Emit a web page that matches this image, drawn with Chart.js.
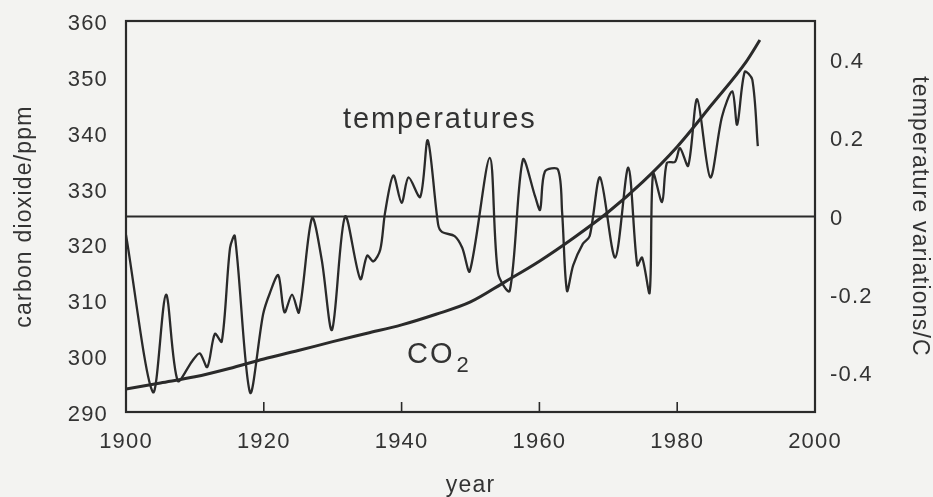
<!DOCTYPE html>
<html>
<head>
<meta charset="utf-8">
<script src="https://cdn.jsdelivr.net/npm/chart.js@4/dist/chart.umd.min.js"></script>
<style>
  html, body { margin: 0; padding: 0; background: #f3f3f1; }
  canvas { display: block; }
</style>
</head>
<body>
<canvas id="c" width="933" height="497"></canvas>
<script>
// ---- data ----
const co2Years  = [1900, 1905, 1910, 1915, 1920, 1925, 1930, 1935, 1940, 1945, 1950, 1955, 1960, 1965, 1970, 1975, 1980, 1985, 1990, 1992];
const co2Values = [294.1, 295.2, 296.3, 297.8, 299.5, 301.0, 302.6, 304.1, 305.6, 307.5, 309.7, 313.3, 317.0, 321.2, 325.8, 331.2, 337.5, 345.0, 352.7, 356.6];

const tempYears  = [1900.0, 1903.9, 1905.8, 1907.5, 1909.6, 1910.7, 1911.8, 1912.9, 1913.9, 1915.1, 1915.8, 1918.0, 1919.9, 1920.9, 1922.1, 1923.0, 1924.1, 1925.1, 1927.0, 1928.4, 1929.9, 1931.8, 1934.0, 1935.0, 1935.9, 1936.9, 1937.6, 1938.8, 1940.0, 1941.0, 1942.7, 1943.8, 1945.3, 1945.9, 1947.7, 1948.8, 1949.9, 1952.8, 1954.0, 1955.7, 1957.6, 1959.4, 1960.1, 1960.8, 1962.7, 1963.3, 1964.0, 1964.9, 1966.3, 1967.3, 1968.8, 1971.0, 1972.9, 1974.2, 1974.9, 1976.0, 1976.5, 1977.8, 1978.5, 1979.7, 1980.4, 1981.6, 1982.9, 1984.8, 1986.5, 1988.0, 1988.7, 1989.8, 1990.9, 1991.7];
const tempValues = [-0.047, -0.449, -0.20, -0.42, -0.37, -0.35, -0.385, -0.30, -0.32, -0.08, -0.05, -0.45, -0.25, -0.195, -0.15, -0.245, -0.20, -0.245, -0.004, -0.11, -0.29, 0.0, -0.16, -0.10, -0.115, -0.085, 0.01, 0.105, 0.035, 0.10, 0.05, 0.195, -0.02, -0.04, -0.05, -0.08, -0.14, 0.15, -0.145, -0.19, 0.145, 0.05, 0.017, 0.115, 0.12, 0.01, -0.19, -0.125, -0.07, -0.05, 0.10, -0.105, 0.125, -0.125, -0.105, -0.195, 0.11, 0.037, 0.137, 0.14, 0.175, 0.13, 0.30, 0.10, 0.255, 0.32, 0.235, 0.37, 0.35, 0.18];

const xTicks    = [1900, 1920, 1940, 1960, 1980, 2000];
const co2Ticks  = [290, 300, 310, 320, 330, 340, 350, 360];
const tempTicks = [-0.4, -0.2, 0, 0.2, 0.4];

// ---- style ----
const INK = '#2a2a2a';
const FONT = "'Liberation Sans', Arial, Helvetica, sans-serif";
Chart.defaults.font.family = FONT;
Chart.defaults.color = '#333';

const bgPlugin = {
  id: 'bg',
  beforeDraw(chart) {
    const c = chart.ctx;
    c.fillStyle = '#f3f3f1';
    c.fillRect(0, 0, chart.width, chart.height);
    c.letterSpacing = '1.2px';
  }
};

const framePlugin = {
  id: 'frame',
  afterDatasetsDraw(chart) {
    const c = chart.ctx;
    const a = chart.chartArea;
    const sx = chart.scales.x, sy = chart.scales.y, st = chart.scales.y2;
    c.save();
    c.strokeStyle = INK;
    // zero line of temperature
    c.lineWidth = 1.8;
    const y0 = st.getPixelForValue(0);
    c.beginPath(); c.moveTo(a.left, y0); c.lineTo(a.right, y0); c.stroke();
    // frame
    c.lineWidth = 2.2;
    c.strokeRect(a.left, a.top, a.right - a.left, a.bottom - a.top);
    // inward tick marks on x axis
    c.lineWidth = 1.6;
    xTicks.forEach(v => {
      if (v === sx.min || v === sx.max) return;
      const px = sx.getPixelForValue(v);
      c.beginPath(); c.moveTo(px, a.bottom); c.lineTo(px, a.bottom - 10); c.stroke();
    });
    // annotations
    c.fillStyle = '#333';
    c.textBaseline = 'alphabetic';
    c.textAlign = 'left';
    c.letterSpacing = '1.9px';
    c.font = '29px ' + FONT;
    c.fillText('temperatures', sx.getPixelForValue(1931.5), sy.getPixelForValue(340.8));
    const cx = sx.getPixelForValue(1940.8), cy = sy.getPixelForValue(298.8);
    c.fillText('CO', cx, cy);
    const w = c.measureText('CO').width;
    c.font = '22px ' + FONT;
    c.fillText('2', cx + w + 2, cy + 9);
    c.restore();
  }
};

new Chart(document.getElementById('c'), {
  type: 'line',
  data: {
    datasets: [
      {
        label: 'CO2',
        data: co2Years.map((x, i) => ({ x, y: co2Values[i] })),
        yAxisID: 'y',
        borderColor: INK,
        borderWidth: 3,
        pointRadius: 0,
        cubicInterpolationMode: 'monotone',
        fill: false
      },
      {
        label: 'temperatures',
        data: tempYears.map((x, i) => ({ x, y: tempValues[i] })),
        yAxisID: 'y2',
        borderColor: INK,
        borderWidth: 2.3,
        pointRadius: 0,
        tension: 0.3,
        fill: false
      }
    ]
  },
  options: {
    responsive: false,
    animation: false,
    devicePixelRatio: 1,
    layout: { padding: { top: 21, left: 0, right: 0, bottom: 0 } },
    plugins: { legend: { display: false }, tooltip: { enabled: false } },
    scales: {
      x: {
        type: 'linear', min: 1900, max: 2000,
        afterBuildTicks: s => { s.ticks = xTicks.map(v => ({ value: v })); },
        ticks: { font: { size: 22 }, color: '#333', padding: 17, maxRotation: 0, callback: v => String(v) },
        grid: { display: false, drawTicks: false, tickLength: 0 },
        border: { display: false },
        title: { display: true, text: 'year', font: { size: 23 }, color: '#333', padding: { top: 0, bottom: -2 } },
        afterFit: s => { s.height = 85; s.paddingLeft = 0; s.paddingRight = 0; }
      },
      y: {
        position: 'left', min: 290, max: 360,
        afterBuildTicks: s => { s.ticks = co2Ticks.map(v => ({ value: v })); },
        ticks: { font: { size: 22 }, color: '#333', padding: 18, labelOffset: 3 },
        grid: { display: false, drawTicks: false, tickLength: 0 },
        border: { display: false },
        title: { display: true, text: 'carbon dioxide/ppm', font: { size: 23 }, color: '#333', padding: { top: 11, bottom: 0 } },
        afterFit: s => { s.width = 126; s.paddingTop = 0; s.paddingBottom = 0; }
      },
      y2: {
        position: 'right', min: -0.5, max: 0.5,
        afterBuildTicks: s => { s.ticks = tempTicks.map(v => ({ value: v })); },
        ticks: { font: { size: 22 }, color: '#333', padding: 15, labelOffset: 2, callback: v => (v === 0 ? '0' : v.toFixed(1)) },
        grid: { display: false, drawTicks: false, tickLength: 0 },
        border: { display: false },
        title: { display: true, text: 'temperature variations/C', font: { size: 23 }, color: '#333', padding: { top: 0, bottom: 0 } },
        afterFit: s => { s.width = 118; s.paddingTop = 0; s.paddingBottom = 0; }
      }
    }
  },
  plugins: [bgPlugin, framePlugin]
});
</script>
</body>
</html>
